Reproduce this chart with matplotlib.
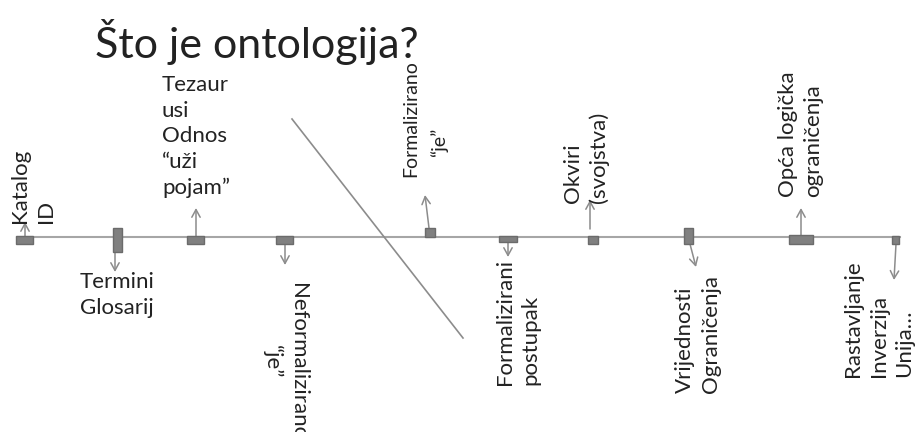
import matplotlib.pyplot as plt
from matplotlib.patches import Rectangle

plt.rcParams['font.family'] = ['Lato', 'DejaVu Sans']

# slide is laid out in pixel units (920 x 432, y downward)
title = "Što je ontologija?"

# timeline markers
marker_x = [25, 118, 196, 285, 430, 508, 593, 689, 801, 896]
marker_w = [17, 9, 17, 17, 10, 18, 10, 9, 24, 7]
marker_h = [8, 24, 8, 8, 9, 6, 8, 16, 9, 8]
marker_top = [236, 228, 236, 236, 228, 236, 236, 228, 235, 236]

# arrows: (x0, y0) -> (x1, y1)
arrow_from = [(25, 236), (115, 252), (196, 236), (285, 244), (429, 228),
              (508, 242), (590, 229), (690, 244), (801, 235), (896, 244)]
arrow_to = [(25, 222), (115, 272), (196, 208), (285, 265), (425, 195),
            (508, 257), (590, 200), (696, 267), (801, 208), (894, 280)]

# labels: text, anchor, rotation, ha, va, multialignment, size
labels = ["Katalog\nID", "Termini\nGlosarij",
          "Tezaur\nusi\nOdnos\n“uži\npojam”",
          "Neformalizirano\n“je”", "Formalizirano", "“je”",
          "Formalizirani\npostupak", "Okviri\n(svojstva)",
          "Vrijednosti\nOgraničenja", "Opća logička\nograničenja",
          "Rastavljanje\nInverzija\nUnija…"]
label_xy = [(10, 223), (80, 272), (162, 75), (308, 283), (402, 177), (430, 157),
            (495, 385), (563, 203), (675, 393), (778, 197), (843, 377)]
label_rot = [90, 0, 0, 270, 90, 90, 90, 90, 90, 90, 90]
label_ha = ['left', 'left', 'left', 'right', 'left', 'left', 'left', 'left', 'left', 'left', 'left']
label_va = ['bottom', 'top', 'top', 'top', 'bottom', 'bottom', 'bottom', 'bottom', 'bottom', 'bottom', 'bottom']
label_ma = ['left', 'left', 'left', 'center', 'left', 'left', 'left', 'left', 'left', 'left', 'left']
label_size = [16, 16, 16, 16, 14, 14, 16, 16, 16, 16, 16]

fig = plt.figure(figsize=(9.2, 4.32), dpi=100)
ax = fig.add_axes([0, 0, 1, 1])
ax.set_xlim(0, 920)
ax.set_ylim(432, 0)
ax.axis('off')

ax.text(95, 58, title, fontsize=31, color='#222222', ha='left', va='baseline')

# main line and the diagonal split
ax.plot([17, 900], [237, 237], color='#a6a6a6', lw=1.5, zorder=1)
ax.plot([292, 463], [119, 338], color='#8c8c8c', lw=1.2, zorder=1)

for x, w, h, t in zip(marker_x, marker_w, marker_h, marker_top):
    ax.add_patch(Rectangle((x - w / 2, t), w, h, facecolor='#808080',
                           edgecolor='#6b6b6b', lw=1, zorder=3))

for (x0, y0), (x1, y1) in zip(arrow_from, arrow_to):
    ax.annotate('', xy=(x1, y1), xytext=(x0, y0),
                arrowprops=dict(arrowstyle='->,head_length=0.55,head_width=0.3',
                                color='#8c8c8c', lw=1.1, shrinkA=0, shrinkB=0),
                zorder=2)

for s, (x, y), r, ha, va, ma, fs in zip(labels, label_xy, label_rot, label_ha,
                                        label_va, label_ma, label_size):
    ax.text(x, y, s, rotation=r, ha=ha, va=va, multialignment=ma,
            fontsize=fs, color='#222222', linespacing=1.35)

fig.savefig('out.png', dpi=100)
